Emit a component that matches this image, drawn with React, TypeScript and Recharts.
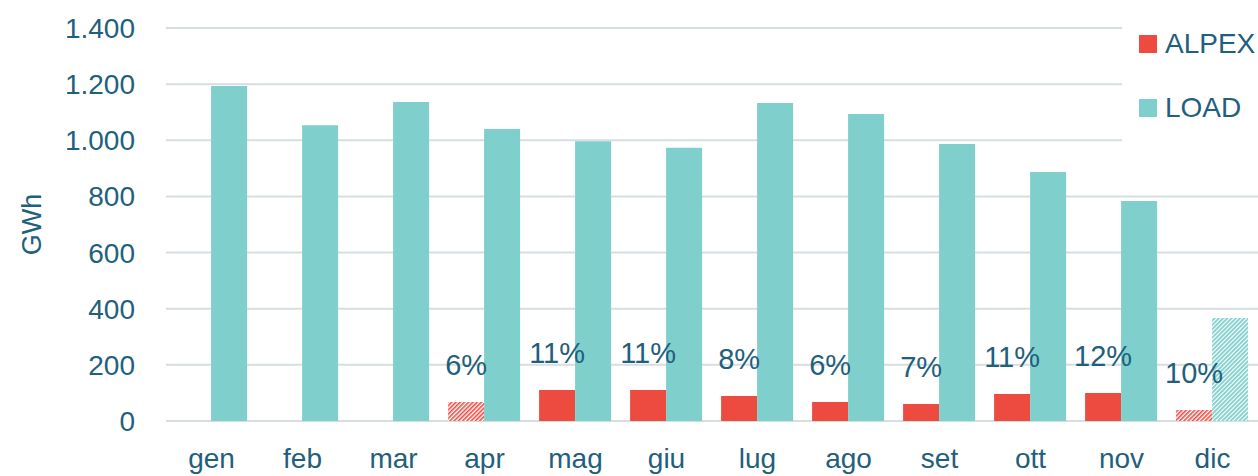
import React from "react";
import { BarChart, Bar, XAxis, YAxis, CartesianGrid, LabelList, Cell } from "recharts";

const months = ["gen", "feb", "mar", "apr", "mag", "giu", "lug", "ago", "set", "ott", "nov", "dic"];
const alpex = [null, null, null, 68, 110, 110, 89, 68, 61, 96, 100, 39];
const load = [1193, 1054, 1136, 1040, 997, 973, 1133, 1094, 987, 887, 784, 367];
const share = [null, null, null, 6, 11, 11, 8, 6, 7, 11, 12, 10];
const alpexEstimated = [false, false, false, true, false, false, false, false, false, false, false, true];
const loadEstimated = [false, false, false, false, false, false, false, false, false, false, false, true];
const yTicks = [0, 200, 400, 600, 800, 1000, 1200, 1400];

const RED = "#EE4B40";
const TEAL = "#7FCFCD";
const INK = "#1F607C";
const GRID = "#D6DEE1";
const FONT = "'Liberation Sans', Arial, sans-serif";

const data = months.map((m, i) => ({ month: m, ALPEX: alpex[i], LOAD: load[i], share: share[i] }));

const fmt = (v: number) => String(v).replace(/\B(?=(\d{3})+(?!\d))/g, ".");

function ShareLabel(props: any) {
  const { x, y, width, value } = props;
  if (value == null) return null;
  return (
    <text x={x + width / 2} y={y - 37} dy="0.355em" textAnchor="middle" fill={INK} fontSize={29} fontFamily={FONT}>
      {value}%
    </text>
  );
}

function YLabel(props: any) {
  const { viewBox } = props;
  const cx = viewBox.x + 29;
  const cy = viewBox.y + viewBox.height / 2;
  return (
    <text x={cx} y={cy} dy="0.355em" textAnchor="middle" transform={`rotate(-90 ${cx} ${cy})`} fill={INK} fontSize={27} fontFamily={FONT}>
      GWh
    </text>
  );
}

const legendItems = [
  { name: "ALPEX", color: RED },
  { name: "LOAD", color: TEAL },
];

function LegendBox() {
  return (
    <div
      style={{
        position: "absolute",
        left: 1122,
        top: 0,
        width: 136,
        height: 170,
        background: "#fff",
        paddingTop: 12,
        paddingLeft: 17,
        boxSizing: "border-box",
      }}
    >
      {legendItems.map((it) => (
        <div key={it.name} style={{ height: 64, display: "flex", alignItems: "center", fontFamily: FONT, fontSize: 28, color: INK }}>
          <span style={{ width: 18, height: 18, background: it.color, display: "inline-block", marginRight: 8 }} />
          {it.name}
        </div>
      ))}
    </div>
  );
}

export default function App() {
  return (
    <div style={{ position: "absolute", left: 0, top: 0, width: 1258, height: 476, background: "#fff" }}>
      <BarChart
        width={1258}
        height={476}
        data={data}
        margin={{ top: 28, right: 0, left: 2, bottom: 0 }}
        barCategoryGap="10%"
        barGap={0}
      >
        <defs>
          <pattern id="hatchRed" width="3" height="3" patternUnits="userSpaceOnUse" patternTransform="rotate(45)">
            <rect width="3" height="3" fill="#fff" />
            <rect width="1.6" height="3" fill={RED} />
          </pattern>
          <pattern id="hatchTeal" width="3" height="3" patternUnits="userSpaceOnUse" patternTransform="rotate(45)">
            <rect width="3" height="3" fill="#fff" />
            <rect width="1.8" height="3" fill={TEAL} />
          </pattern>
        </defs>
        <CartesianGrid vertical={false} stroke={GRID} strokeWidth={2} />
        <XAxis
          dataKey="month"
          axisLine={false}
          tickLine={false}
          tickSize={0}
          tickMargin={27}
          height={55}
          interval={0}
          tick={{ fill: INK, fontSize: 28, fontFamily: FONT }}
        />
        <YAxis
          width={164}
          domain={[0, 1400]}
          ticks={yTicks}
          interval={0}
          axisLine={false}
          tickLine={false}
          tickSize={0}
          tickMargin={31}
          tickFormatter={fmt}
          tick={{ fill: INK, fontSize: 28, fontFamily: FONT }}
          label={<YLabel />}
        />
        <Bar dataKey="ALPEX" name="ALPEX" fill={RED} isAnimationActive={false}>
          {data.map((d, i) => (
            <Cell key={d.month} fill={alpexEstimated[i] ? "url(#hatchRed)" : RED} />
          ))}
          <LabelList dataKey="share" content={<ShareLabel />} />
        </Bar>
        <Bar dataKey="LOAD" name="LOAD" fill={TEAL} isAnimationActive={false}>
          {data.map((d, i) => (
            <Cell key={d.month} fill={loadEstimated[i] ? "url(#hatchTeal)" : TEAL} />
          ))}
        </Bar>
      </BarChart>
      <LegendBox />
    </div>
  );
}
